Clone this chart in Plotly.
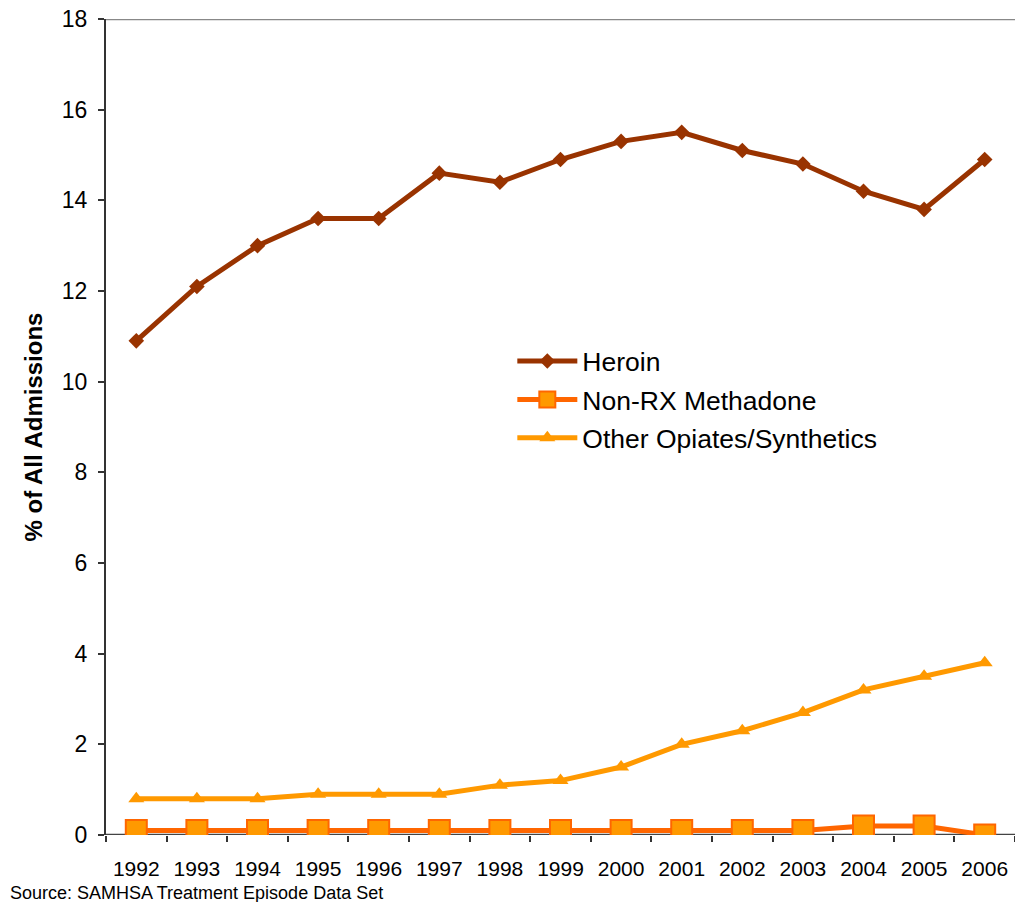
import plotly.graph_objects as go

years = ["1992", "1993", "1994", "1995", "1996", "1997", "1998", "1999",
         "2000", "2001", "2002", "2003", "2004", "2005", "2006"]
heroin = [10.9, 12.1, 13.0, 13.6, 13.6, 14.6, 14.4, 14.9, 15.3, 15.5, 15.1, 14.8, 14.2, 13.8, 14.9]
methadone = [0.1, 0.1, 0.1, 0.1, 0.1, 0.1, 0.1, 0.1, 0.1, 0.1, 0.1, 0.1, 0.2, 0.2, 0.0]
other = [0.8, 0.8, 0.8, 0.9, 0.9, 0.9, 1.1, 1.2, 1.5, 2.0, 2.3, 2.7, 3.2, 3.5, 3.8]
y_ticks = [0, 2, 4, 6, 8, 10, 12, 14, 16, 18]

FONT = "Liberation Sans, Arial, sans-serif"

fig = go.Figure()
fig.add_trace(go.Scatter(
    x=years, y=heroin, name="Heroin", mode="lines+markers", legendgroup="a",
    line=dict(color="#993300", width=5),
    marker=dict(symbol="diamond", size=12, color="#993300"),
))
fig.add_trace(go.Scatter(
    x=years, y=methadone, name="Non-RX Methadone", mode="lines+markers", legendgroup="b",
    line=dict(color="#FF6600", width=5),
    marker=dict(symbol="square", size=21, color="#FF9900",
                line=dict(color="#FF6600", width=2)),
))
fig.add_trace(go.Scatter(
    x=years, y=other, name="Other Opiates/Synthetics", mode="lines+markers", legendgroup="c",
    line=dict(color="#FF9900", width=5),
    marker=dict(symbol="triangle-up", size=14, color="#FF9900"),
))

fig.update_layout(
    width=1015, height=902,
    margin=dict(l=106, r=0, t=19, b=67),
    paper_bgcolor="white", plot_bgcolor="white",
    font=dict(family=FONT, size=22, color="black"),
    showlegend=True,
    legend=dict(
        x=0.447, y=0.61, xanchor="left", yanchor="top",
        font=dict(size=26.5, family=FONT, color="black"),
        bgcolor="rgba(0,0,0,0)", itemwidth=60,
        traceorder="grouped", tracegroupgap=1,
    ),
    xaxis=dict(
        type="category", range=[-0.5, 14.5],
        showline=False, showgrid=False, zeroline=False,
        ticks="outside", tickson="boundaries", ticklen=6,
        tickcolor="#333333", tickwidth=1.5, ticklabelstandoff=19,
        tickfont=dict(size=21, family=FONT, color="black"),
    ),
    yaxis=dict(
        range=[0, 18], tickvals=y_ticks,
        showline=True, linecolor="#333333", linewidth=2,
        showgrid=False, zeroline=False,
        ticks="outside", ticklen=6, tickcolor="#333333", tickwidth=1.5,
        ticklabelstandoff=6,
        tickfont=dict(size=23, family=FONT, color="black"),
        title=dict(text="<b>% of All Admissions</b>", standoff=12,
                   font=dict(size=24, family=FONT, color="black")),
    ),
    shapes=[
        dict(type="line", xref="paper", yref="y", x0=0, x1=1, y0=18, y1=18,
             line=dict(color="#888888", width=2.5), layer="below"),
        dict(type="line", xref="paper", yref="y", x0=0, x1=1, y0=0, y1=0,
             line=dict(color="#444444", width=2.5), layer="below"),
    ],
    annotations=[
        dict(text="Source: SAMHSA Treatment Episode Data Set",
             xref="paper", yref="paper", x=-0.108, y=-0.071,
             xanchor="left", yanchor="middle", showarrow=False,
             font=dict(size=18, family=FONT, color="black")),
    ],
)

fig.write_html("out.html", config={"displayModeBar": False},
               post_script="document.body.style.margin='0';")
